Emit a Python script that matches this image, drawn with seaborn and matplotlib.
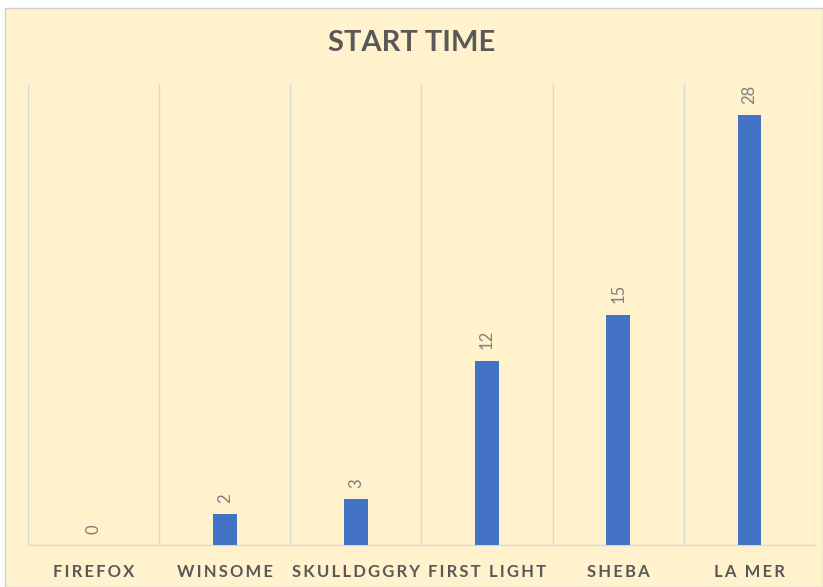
import matplotlib
matplotlib.use("Agg")
import matplotlib.pyplot as plt
from matplotlib.patches import Rectangle
import seaborn as sns
import pandas as pd

boats = ["FIREFOX", "WINSOME", "SKULLDGGRY", "FIRST LIGHT", "SHEBA", "LA MER"]
start_time = [0, 2, 3, 12, 15, 28]

bg = "#FFF2CC"
bar_color = "#4472C4"
text_dark = "#595959"
text_light = "#7F7F7F"
grid_color = "#D9D9D9"

sns.set_theme(style="white")
plt.rcParams["font.family"] = ["Lato", "DejaVu Sans"]

df = pd.DataFrame({"boat": boats, "minutes": start_time})

fig = plt.figure(figsize=(8.23, 5.87), dpi=100)
fig.patch.set_facecolor("white")
# chart panel with thin border, kept behind the axes
panel = Rectangle((5 / 823, 0), 1 - 5 / 823, 1 - 8 / 587, transform=fig.transFigure,
                  facecolor=bg, edgecolor="#D0D0D0", linewidth=1, zorder=-5)
fig.patches.append(panel)

ax = fig.add_axes([28 / 823, 1 - 545 / 587, (815 - 28) / 823, (545 - 84) / 587])
ax.set_facecolor("none")

sns.barplot(data=df, x="boat", y="minutes", color=bar_color, width=0.18,
            saturation=1, linewidth=0, ax=ax, zorder=3)

ax.set_xlim(-0.5, len(boats) - 0.5)
ax.set_ylim(0, 30)

# vertical gridlines between categories
ax.set_xticks([i + 0.5 for i in range(-1, len(boats))], minor=True)
ax.grid(which="minor", axis="x", color=grid_color, linewidth=1)
ax.grid(which="major", visible=False)
ax.tick_params(axis="x", which="both", length=0)
ax.set_yticks([])
for side in ["top", "left", "right"]:
    ax.spines[side].set_visible(False)
ax.spines["bottom"].set_color(grid_color)
ax.spines["bottom"].set_linewidth(1)

# excel-style letter spacing on the category labels
spaced = ["\u2009".join(b) for b in boats]
ax.set_xticks(range(len(boats)))
ax.set_xticklabels(spaced, fontweight="bold", fontsize=12, color=text_dark)
ax.tick_params(axis="x", pad=14)
ax.set_xlabel("")
ax.set_ylabel("")

for i, v in enumerate(start_time):
    ax.annotate(str(v), (i, v), xytext=(0, 8), textcoords="offset points",
                rotation=90, ha="center", va="bottom", fontsize=12, color=text_light)

fig.text(0.5, 1 - 43 / 587, "START TIME", ha="center", va="center",
         fontsize=21, fontweight="bold", color=text_dark)

fig.savefig("out.png", dpi=100, facecolor=fig.get_facecolor())
